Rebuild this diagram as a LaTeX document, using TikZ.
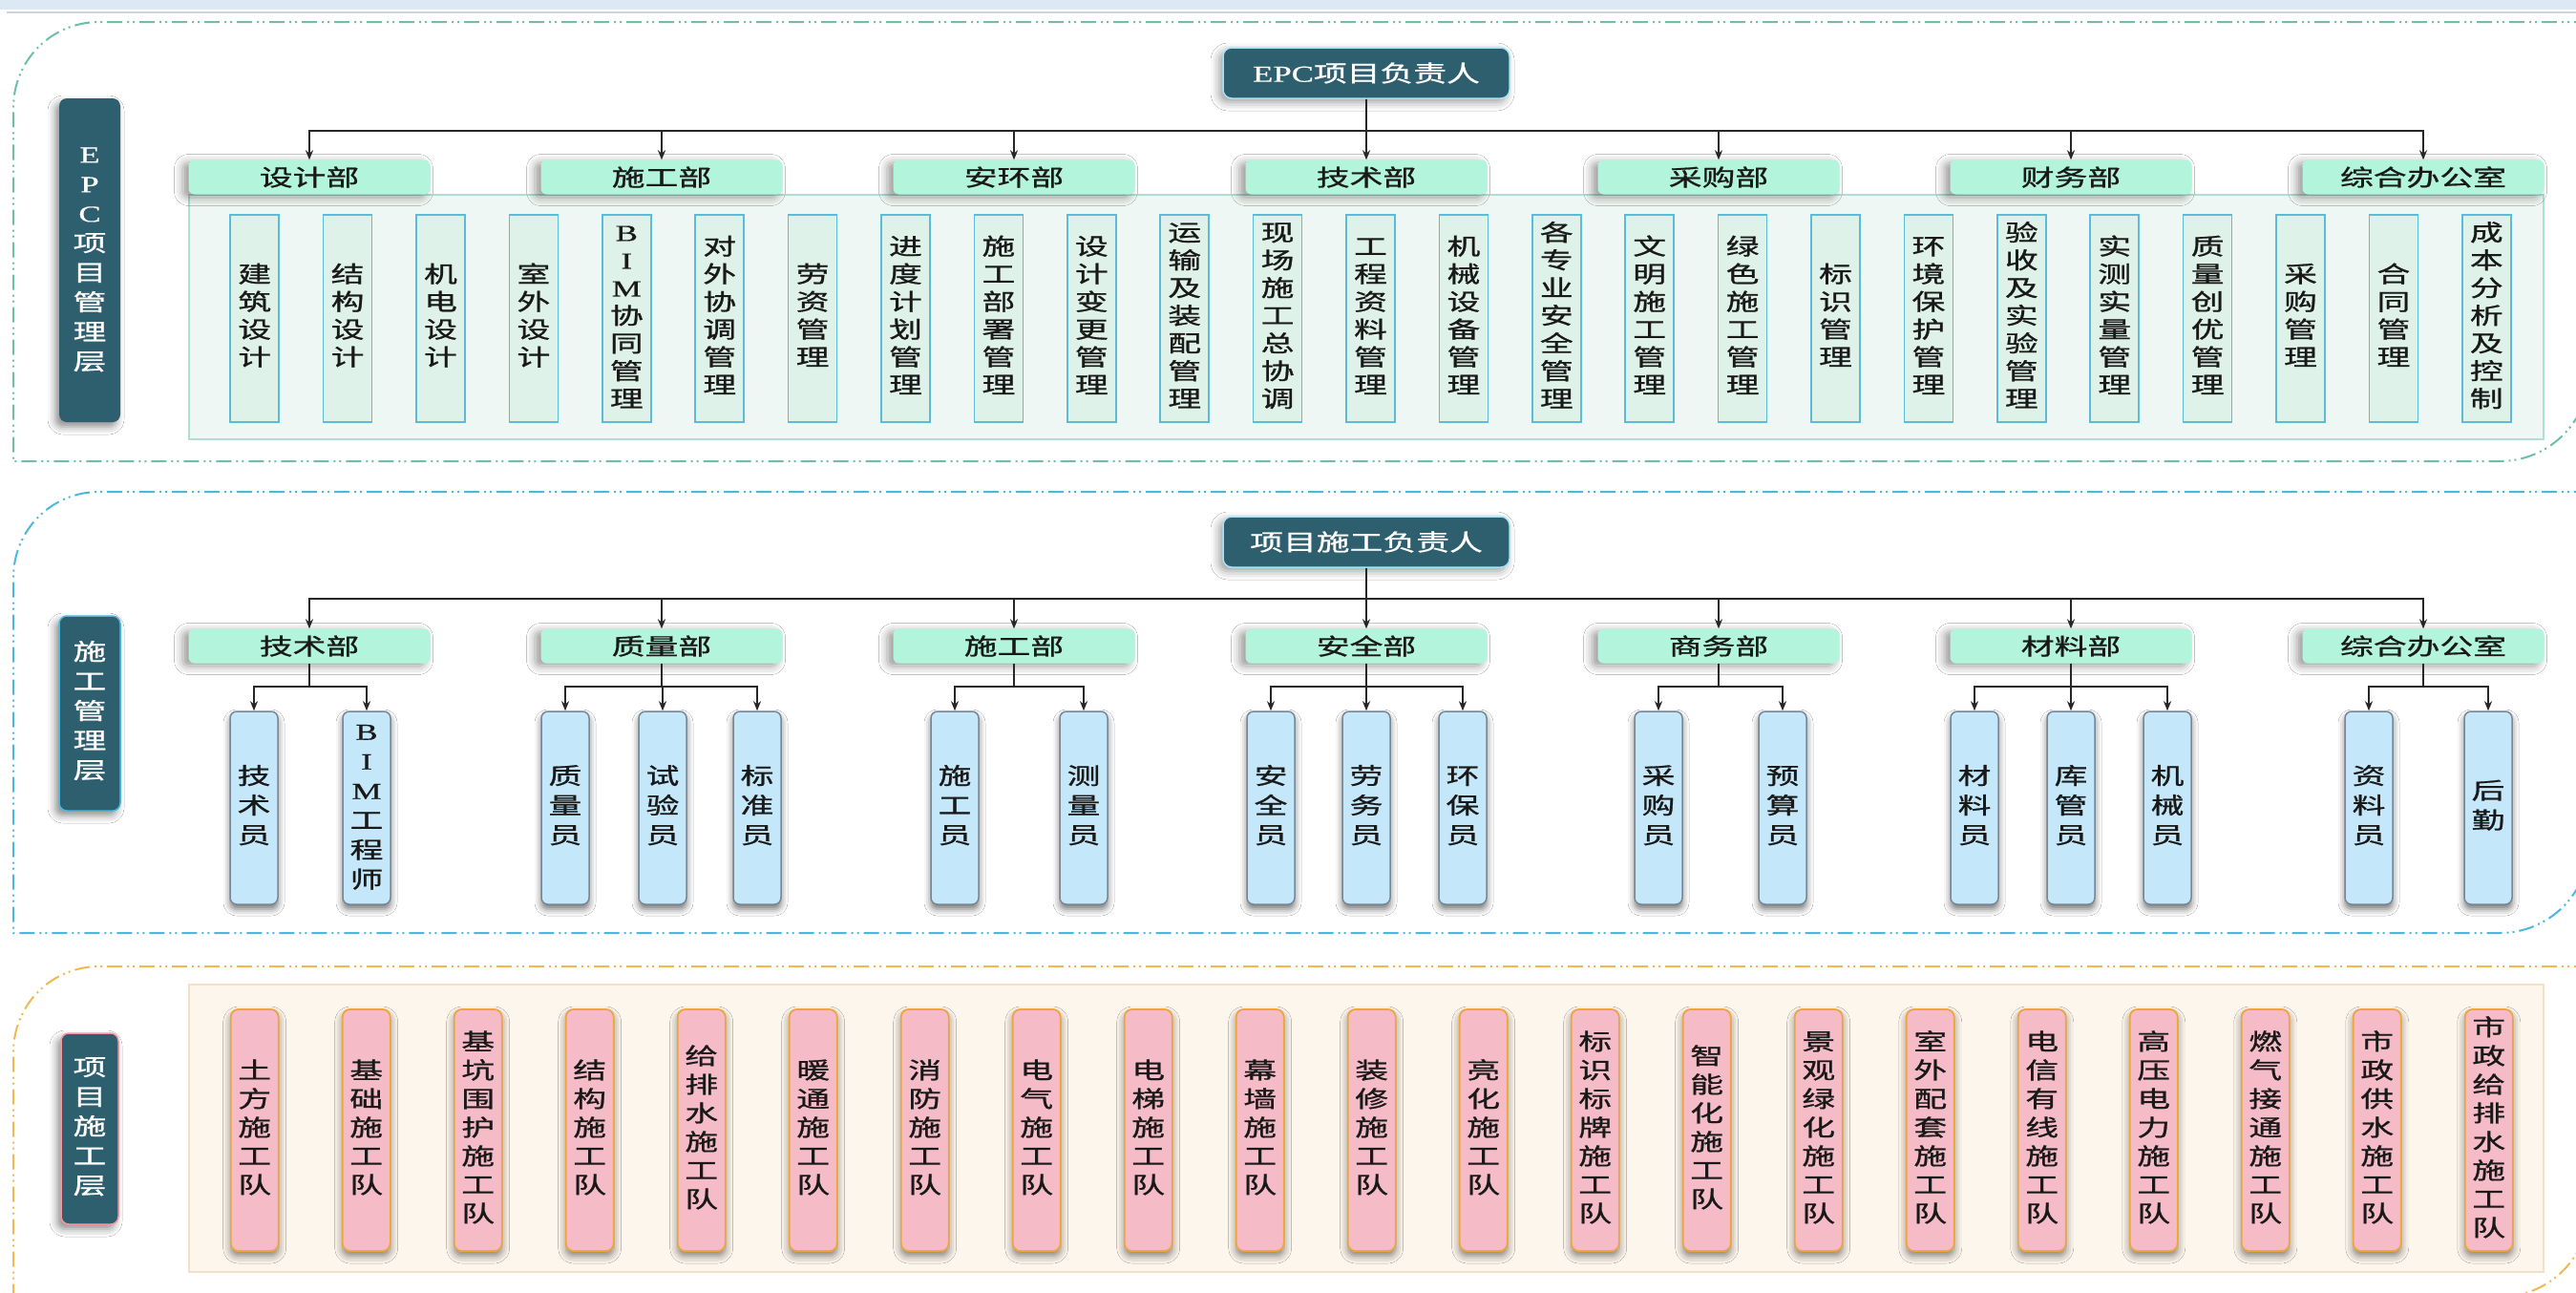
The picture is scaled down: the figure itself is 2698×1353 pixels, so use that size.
\documentclass[tikz,border=0pt]{standalone}
\usepackage{fontspec}
\newfontfamily\cjk[FakeBold=0.8]{Noto Sans CJK SC}
\newfontfamily\lat[FakeBold=0.5]{Liberation Serif}
\usetikzlibrary{arrows.meta,shadows.blur}
\definecolor{teal1}{RGB}{46,95,110}
\definecolor{mint}{RGB}{178,245,220}
\definecolor{leafg}{RGB}{222,242,234}
\definecolor{leafgb}{RGB}{90,188,214}
\definecolor{panelg}{RGB}{238,247,243}
\definecolor{panelgb}{RGB}{176,222,210}
\definecolor{leafb}{RGB}{196,232,250}
\definecolor{leafbb}{RGB}{120,135,150}
\definecolor{pink1}{RGB}{245,188,200}
\definecolor{orange1}{RGB}{240,165,60}
\definecolor{panelc}{RGB}{252,246,237}
\definecolor{panelcb}{RGB}{240,225,200}
\definecolor{bA}{RGB}{110,190,170}
\definecolor{bB}{RGB}{75,185,220}
\definecolor{bC}{RGB}{240,185,80}
\definecolor{topband}{RGB}{221,232,245}
\definecolor{txt}{RGB}{25,25,25}
\newcommand\vt[1]{\scalebox{1.45}[1]{\begin{tabular}{@{}c@{}}#1\end{tabular}}}
\newcommand\hs[1]{\scalebox{1.45}[1]{#1}}
\newcommand\la[1]{{\lat #1}}
\tikzset{
  lab/.style={fill=teal1, rounded corners=8pt, text=white, inner sep=0pt,
    font=\cjk\fontsize{24}{31}\selectfont,
    blur shadow={shadow xshift=-4pt,shadow yshift=-5pt,shadow blur radius=8pt,shadow opacity=45}},
  headbox/.style={fill=teal1, draw=cyan!35, line width=1.5pt, rounded corners=9pt, text=white,
    font=\cjk\fontsize{24}{29}\selectfont, minimum width=300, minimum height=53, inner sep=0pt,
    blur shadow={shadow xshift=-4pt,shadow yshift=-4pt,shadow blur radius=9pt,shadow opacity=40}},
  dept/.style={fill=mint, rounded corners=6pt, minimum width=253, minimum height=36, inner sep=0pt,
    text=txt, font=\cjk\fontsize{24}{29}\selectfont,
    blur shadow={shadow xshift=-6pt,shadow yshift=-3pt,shadow blur radius=9pt,shadow opacity=40}},
  leafA/.style={fill=leafg, draw=leafgb, line width=1.5pt, minimum width=51, minimum height=217,
    inner sep=0pt, text=txt, font=\cjk\fontsize{24}{29}\selectfont},
  leafB/.style={fill=leafb, draw=leafbb, line width=1.5pt, rounded corners=7pt, minimum width=50,
    minimum height=202, inner sep=0pt, text=txt, font=\cjk\fontsize{24}{31}\selectfont,
    blur shadow={shadow xshift=0pt,shadow yshift=-5pt,shadow blur radius=7pt,shadow opacity=55}},
  leafC/.style={fill=pink1, draw=orange1, line width=1.8pt, rounded corners=8pt, minimum width=50,
    minimum height=253, inner sep=0pt, text=txt, font=\cjk\fontsize{24}{30}\selectfont,
    blur shadow={shadow xshift=0pt,shadow yshift=-5pt,shadow blur radius=8pt,shadow opacity=50}},
  conn/.style={draw=black!85, line width=1.8pt, -{Stealth[length=10pt,width=8pt]}},
  secline/.style={line width=2pt, dash pattern=on 16pt off 5pt on 2pt off 4pt on 2pt off 5pt},
}
\begin{document}
\begin{tikzpicture}[x=1pt,y=-1pt]
\useasboundingbox (0,0) rectangle (2698,1353);
\fill[white] (0,0) rectangle (2698,1353);
\fill[topband] (0,0) rectangle (2698,10);
\draw[topband!80!gray, line width=1.2pt] (7,13) -- (2698,13);

% section borders
\draw[secline, bA] (2712,23) -- (104,23) .. controls (54,23) and (14,63) .. (14,113) -- (14,483)
  -- (2618,483) .. controls (2670,483) and (2712,441) .. (2712,389);
\draw[secline, bB] (2712,515) -- (104,515) .. controls (54,515) and (14,555) .. (14,605) -- (14,977)
  -- (2618,977) .. controls (2670,977) and (2712,935) .. (2712,883);
\draw[secline, bC] (2712,1012) -- (104,1012) .. controls (54,1012) and (14,1052) .. (14,1102) -- (14,1358)
  -- (2618,1358) .. controls (2670,1358) and (2712,1316) .. (2712,1264);

% ===== section 1 =====
\node[draw=panelgb, fill=panelg, line width=1.2pt, minimum width=2466, minimum height=256, inner sep=0pt] (P1) at (1431,332) {};
\node[lab, minimum width=64, minimum height=339] (L1) at (94,272.5)
  {\vt{\la{E}\\\la{P}\\\la{C}\\项\\目\\管\\理\\层}};
\node[headbox] (epc) at (1431,76.5) {\hs{\la{EPC}项目负责人}};
\foreach \txt [count=\k] in {设计部,施工部,安环部,技术部,采购部,财务部,综合办公室}{
  \node[dept] (d\k) at ({324+369*(\k-1)},185.5) {\hs{\txt}};
  \draw[conn] (epc.south) -- ++(0,33) -| (d\k.north);
}
\foreach \txt [count=\k from 0] in {
  {建\\筑\\设\\计},{结\\构\\设\\计},{机\\电\\设\\计},{室\\外\\设\\计},
  {\la{B}\\\la{I}\\\la{M}\\协\\同\\管\\理},{对\\外\\协\\调\\管\\理},{劳\\资\\管\\理},
  {进\\度\\计\\划\\管\\理},{施\\工\\部\\署\\管\\理},{设\\计\\变\\更\\管\\理},
  {运\\输\\及\\装\\配\\管\\理},{现\\场\\施\\工\\总\\协\\调},{工\\程\\资\\料\\管\\理},
  {机\\械\\设\\备\\管\\理},{各\\专\\业\\安\\全\\管\\理},{文\\明\\施\\工\\管\\理},
  {绿\\色\\施\\工\\管\\理},{标\\识\\管\\理},{环\\境\\保\\护\\管\\理},
  {验\\收\\及\\实\\验\\管\\理},{实\\测\\实\\量\\管\\理},{质\\量\\创\\优\\管\\理},
  {采\\购\\管\\理},{合\\同\\管\\理},{成\\本\\分\\析\\及\\控\\制}}{
  \node[leafA] (a\k) at ({266.7+97.4*\k},333.5) {\vt{\txt}};
}

% ===== section 2 =====
\node[lab, draw=bB, line width=1.5pt, minimum width=64, minimum height=204] (L2) at (94,747)
  {\vt{施\\工\\管\\理\\层}};
\node[headbox] (pm) at (1431,567.5) {\hs{项目施工负责人}};
\foreach \txt [count=\k] in {技术部,质量部,施工部,安全部,商务部,材料部,综合办公室}{
  \node[dept] (e\k) at ({324+369*(\k-1)},676.5) {\hs{\txt}};
  \draw[conn] (pm.south) -- ++(0,32) -| (e\k.north);
}
\foreach \x/\d/\txt [count=\k] in {
  266/1/{技\\术\\员}, 384/1/{\la{B}\\\la{I}\\\la{M}\\工\\程\\师},
  592/2/{质\\量\\员}, 694/2/{试\\验\\员}, 793/2/{标\\准\\员},
  1000/3/{施\\工\\员}, 1135/3/{测\\量\\员},
  1331/4/{安\\全\\员}, 1431/4/{劳\\务\\员}, 1532/4/{环\\保\\员},
  1737/5/{采\\购\\员}, 1867/5/{预\\算\\员},
  2068/6/{材\\料\\员}, 2169/6/{库\\管\\员}, 2270/6/{机\\械\\员},
  2481/7/{资\\料\\员}, 2606/7/{后\\勤}}{
  \node[leafB] (b\k) at (\x,846) {\vt{\txt}};
  \draw[conn] (e\d.south) -- ++(0,24) -| (b\k.north);
}

% ===== section 3 =====
\node[draw=panelcb, fill=panelc, line width=1.2pt, minimum width=2466, minimum height=301, inner sep=0pt] (P3) at (1431,1181.5) {};
\node[lab, draw=pink1!80!red, line width=1.5pt, minimum width=60, minimum height=200] (L3) at (94,1182)
  {\vt{项\\目\\施\\工\\层}};
\foreach \txt [count=\k from 0] in {
  {土\\方\\施\\工\\队},{基\\础\\施\\工\\队},{基\\坑\\围\\护\\施\\工\\队},{结\\构\\施\\工\\队},
  {给\\排\\水\\施\\工\\队},{暖\\通\\施\\工\\队},{消\\防\\施\\工\\队},{电\\气\\施\\工\\队},
  {电\\梯\\施\\工\\队},{幕\\墙\\施\\工\\队},{装\\修\\施\\工\\队},{亮\\化\\施\\工\\队},
  {标\\识\\标\\牌\\施\\工\\队},{智\\能\\化\\施\\工\\队},{景\\观\\绿\\化\\施\\工\\队},
  {室\\外\\配\\套\\施\\工\\队},{电\\信\\有\\线\\施\\工\\队},{高\\压\\电\\力\\施\\工\\队},
  {燃\\气\\接\\通\\施\\工\\队},{市\\政\\供\\水\\施\\工\\队},{市\\政\\给\\排\\水\\施\\工\\队}}{
  \node[leafC] (c\k) at ({266.7+117*\k},1183.5) {\vt{\txt}};
}
\end{tikzpicture}
\end{document}
